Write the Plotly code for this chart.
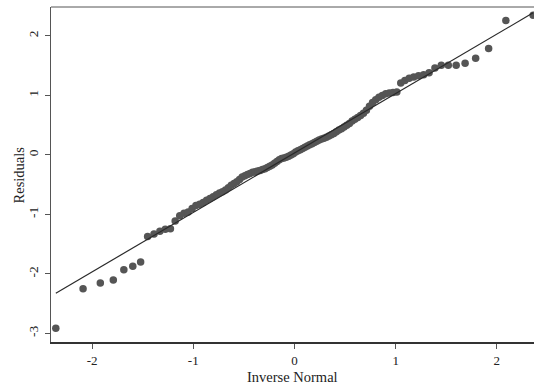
import statistics
import plotly.graph_objects as go

# Sorted regression residuals (smallest to largest)
residuals = [
    -2.91, -2.25, -2.15, -2.10, -1.93, -1.87, -1.80, -1.37, -1.33, -1.28,
    -1.25, -1.24, -1.11, -1.02, -0.98, -0.96, -0.90, -0.85, -0.83, -0.80,
    -0.76, -0.73, -0.70, -0.67, -0.64, -0.62, -0.59, -0.55, -0.51, -0.48,
    -0.45, -0.41, -0.37, -0.35, -0.33, -0.31, -0.29, -0.28, -0.27, -0.26,
    -0.245, -0.23, -0.21, -0.19, -0.17, -0.14, -0.11, -0.08, -0.06, -0.05,
    -0.04, -0.02, 0.00, 0.02, 0.05, 0.07, 0.09, 0.11, 0.13, 0.15,
    0.17, 0.19, 0.21, 0.23, 0.25, 0.27, 0.28, 0.30, 0.32, 0.34,
    0.36, 0.39, 0.42, 0.44, 0.47, 0.50, 0.53, 0.57, 0.60, 0.63,
    0.665, 0.70, 0.75, 0.82, 0.88, 0.93, 0.97, 1.00, 1.03, 1.04,
    1.05, 1.06, 1.21, 1.25, 1.29, 1.31, 1.33, 1.35, 1.38, 1.46,
    1.51, 1.51, 1.51, 1.54, 1.625, 1.79, 2.26, 2.35,
]

x_ticks = [-2, -1, 0, 1, 2]
y_ticks = [-3, -2, -1, 0, 1, 2]

# Normal quantiles at plotting positions i/(n+1)
n = len(residuals)
nd = statistics.NormalDist()
inv_normal = [nd.inv_cdf(i / (n + 1)) for i in range(1, n + 1)]

# Reference line: mean + sd * z
mu = statistics.fmean(residuals)
sd = statistics.stdev(residuals)
line_x = [inv_normal[0], inv_normal[-1]]
line_y = [mu + sd * z for z in line_x]

serif = "Liberation Serif, Times New Roman, serif"
ink = "#222222"

fig = go.Figure()
fig.add_trace(go.Scatter(
    x=inv_normal, y=residuals, mode="markers",
    marker=dict(size=7.5, color="#555555", line=dict(width=0)),
    hoverinfo="skip", showlegend=False,
))
fig.add_trace(go.Scatter(
    x=line_x, y=line_y, mode="lines",
    line=dict(color="#2a2a2a", width=1.2),
    hoverinfo="skip", showlegend=False,
))

fig.update_layout(
    width=534, height=387,
    margin=dict(l=51, r=0, t=7, b=45),
    paper_bgcolor="white", plot_bgcolor="white",
    font=dict(family=serif, color=ink, size=13.5),
    xaxis=dict(
        range=[-2.406, 2.367], tickvals=x_ticks,
        ticktext=[str(v) for v in x_ticks],
        showgrid=False, zeroline=False,
        showline=True, linecolor="#333333", linewidth=1.8,
        ticks="outside", ticklen=5, tickwidth=1, tickcolor="#555555",
        tickfont=dict(family=serif, size=13, color=ink),
    ),
    yaxis=dict(
        range=[-3.143, 2.487], tickvals=y_ticks,
        ticktext=[str(v) for v in y_ticks],
        showgrid=False, zeroline=False,
        showline=True, linecolor="#555555", linewidth=1,
        ticks="outside", ticklen=5, tickwidth=1, tickcolor="#555555",
        tickangle=-90, ticklabelstandoff=2,
        tickfont=dict(family=serif, size=13.5, color=ink),
    ),
    shapes=[dict(
        type="line", xref="paper", yref="paper", x0=0, x1=1, y0=1, y1=1,
        line=dict(color="#555555", width=1),
    )],
    annotations=[
        dict(text="Inverse Normal", xref="paper", yref="paper",
             x=0.5, y=-0.1045, xanchor="center", yanchor="middle",
             showarrow=False, borderpad=0,
             font=dict(family=serif, size=14.5, color=ink)),
        dict(text="Residuals", xref="paper", yref="paper",
             x=-0.0663, y=0.5, xanchor="center", yanchor="middle",
             textangle=-90, showarrow=False, borderpad=0,
             font=dict(family=serif, size=14.5, color=ink)),
    ],
)

fig.write_html("out.html")
